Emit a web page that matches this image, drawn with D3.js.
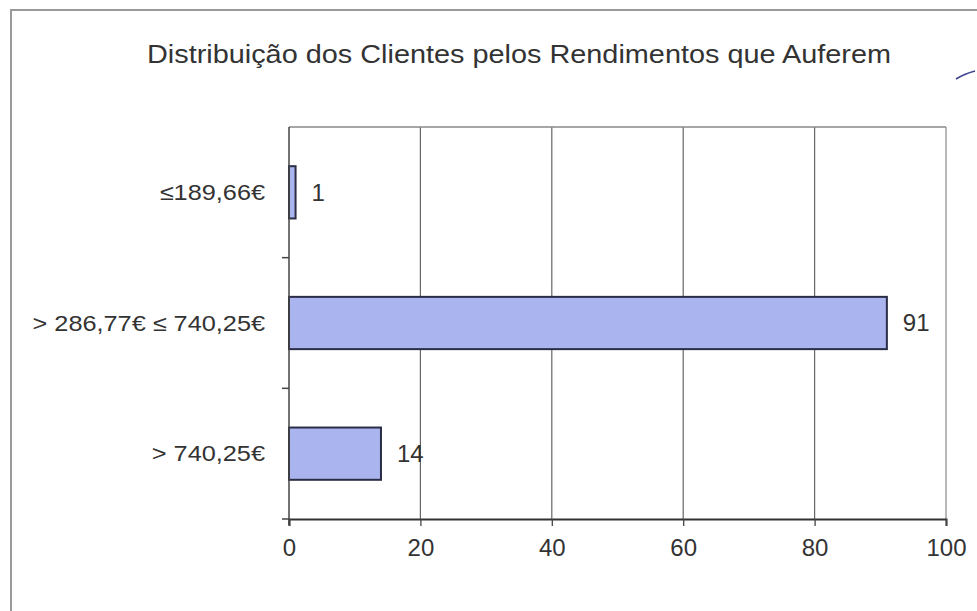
<!DOCTYPE html>
<html>
<head>
<meta charset="utf-8">
<script src="https://cdn.jsdelivr.net/npm/d3@7"></script>
<style>
  body { margin: 0; background: #fff; }
  text { font-family: "Liberation Sans", Arial, sans-serif; fill: #333; }
</style>
</head>
<body>
<script>
const width = 977,
      height = 611;

// data
const categories = ["\u2264189,66\u20ac", "> 286,77\u20ac \u2264 740,25\u20ac", "> 740,25\u20ac"];
const values = [1, 91, 14];
const xTicks = [0, 20, 40, 60, 80, 100];
const title = "Distribuição dos Clientes pelos Rendimentos que Auferem";

const margin = {top: 127, right: 30, bottom: 91, left: 289};

const svg = d3.select("body")
    .append("svg")
    .attr("width", width)
    .attr("height", height);

// outer frame of the scanned chart
svg.append("path")
    .attr("d", `M11,${height} V10 H${width}`)
    .attr("fill", "none")
    .attr("stroke", "#9a9a9a")
    .attr("stroke-width", 2);

svg.append("text")
    .attr("x", 519)
    .attr("y", 63)
    .attr("text-anchor", "middle")
    .attr("font-size", 26)
    .attr("textLength", 744)
    .attr("lengthAdjust", "spacingAndGlyphs")
    .text(title);

const x = d3.scaleLinear()
    .domain([0, 100])
    .range([margin.left, width - margin.right - 1]);

const y = d3.scaleBand()
    .domain(categories)
    .range([margin.top, height - margin.bottom - 1])
    .padding(0);

const x0 = x.range()[0], x1 = x.range()[1];
const y0 = y.range()[0], y1 = y.range()[1];

// gridlines
svg.append("g")
    .selectAll("line")
    .data(xTicks.slice(1))
    .enter().append("line")
    .attr("x1", d => x(d))
    .attr("x2", d => x(d))
    .attr("y1", y0)
    .attr("y2", y1)
    .attr("stroke", d => d === 100 ? "#888" : "#666")
    .attr("stroke-width", 1.2);

// top border
svg.append("line")
    .attr("x1", x0).attr("x2", x1)
    .attr("y1", y0).attr("y2", y0)
    .attr("stroke", "#888")
    .attr("stroke-width", 1.5);

// bars
const barH = y.bandwidth() * 0.4;
svg.append("g")
    .selectAll("rect")
    .data(values)
    .enter().append("rect")
    .attr("x", x(0))
    .attr("y", (d, i) => y(categories[i]) + (y.bandwidth() - barH) / 2)
    .attr("width", d => x(d) - x(0))
    .attr("height", barH)
    .attr("fill", "#aab4ee")
    .attr("stroke", "#2a2d45")
    .attr("stroke-width", 2);

// value labels
svg.append("g")
    .selectAll("text")
    .data(values)
    .enter().append("text")
    .attr("x", d => x(d) + 16)
    .attr("y", (d, i) => y(categories[i]) + y.bandwidth() / 2)
    .attr("dy", "0.35em")
    .attr("font-size", 24)
    .text(d => d);

// left axis with ticks at band boundaries
const yAxis = svg.append("g")
    .attr("transform", `translate(${x0},0)`);
yAxis.append("line")
    .attr("y1", y0).attr("y2", y1 + 6)
    .attr("stroke", "#444")
    .attr("stroke-width", 1.5);
yAxis.selectAll("line.tick")
    .data(categories.slice(1).map(c => y(c)).concat([y1]))
    .enter().append("line")
    .attr("class", "tick")
    .attr("x1", -7).attr("x2", 0)
    .attr("y1", d => d).attr("y2", d => d)
    .attr("stroke", "#444")
    .attr("stroke-width", 1.5);
// the scan is a little stretched sideways, so widen the labels
yAxis.selectAll("text")
    .data(categories)
    .enter().append("text")
    .attr("transform", d => `translate(-24,${y(d) + y.bandwidth() / 2}) scale(1.15,1)`)
    .attr("dy", "0.35em")
    .attr("text-anchor", "end")
    .attr("font-size", 22)
    .text(d => d);

// bottom axis
const xAxis = svg.append("g")
    .attr("transform", `translate(0,${y1})`)
    .call(d3.axisBottom(x).tickValues(xTicks).tickSize(7).tickPadding(13));
xAxis.select(".domain")
    .attr("stroke", "#333")
    .attr("stroke-width", 2);
xAxis.selectAll(".tick line")
    .attr("stroke", "#444")
    .attr("stroke-width", 1.3);
xAxis.selectAll(".tick text")
    .attr("font-size", 24)
    .attr("font-family", "Liberation Sans, Arial, sans-serif")
    .attr("fill", "#333");

// pen mark at the right edge of the scan
svg.append("path")
    .attr("d", "M956,79 Q964,74 975,71")
    .attr("fill", "none")
    .attr("stroke", "#3b3f8f")
    .attr("stroke-width", 1.5);
</script>
</body>
</html>
